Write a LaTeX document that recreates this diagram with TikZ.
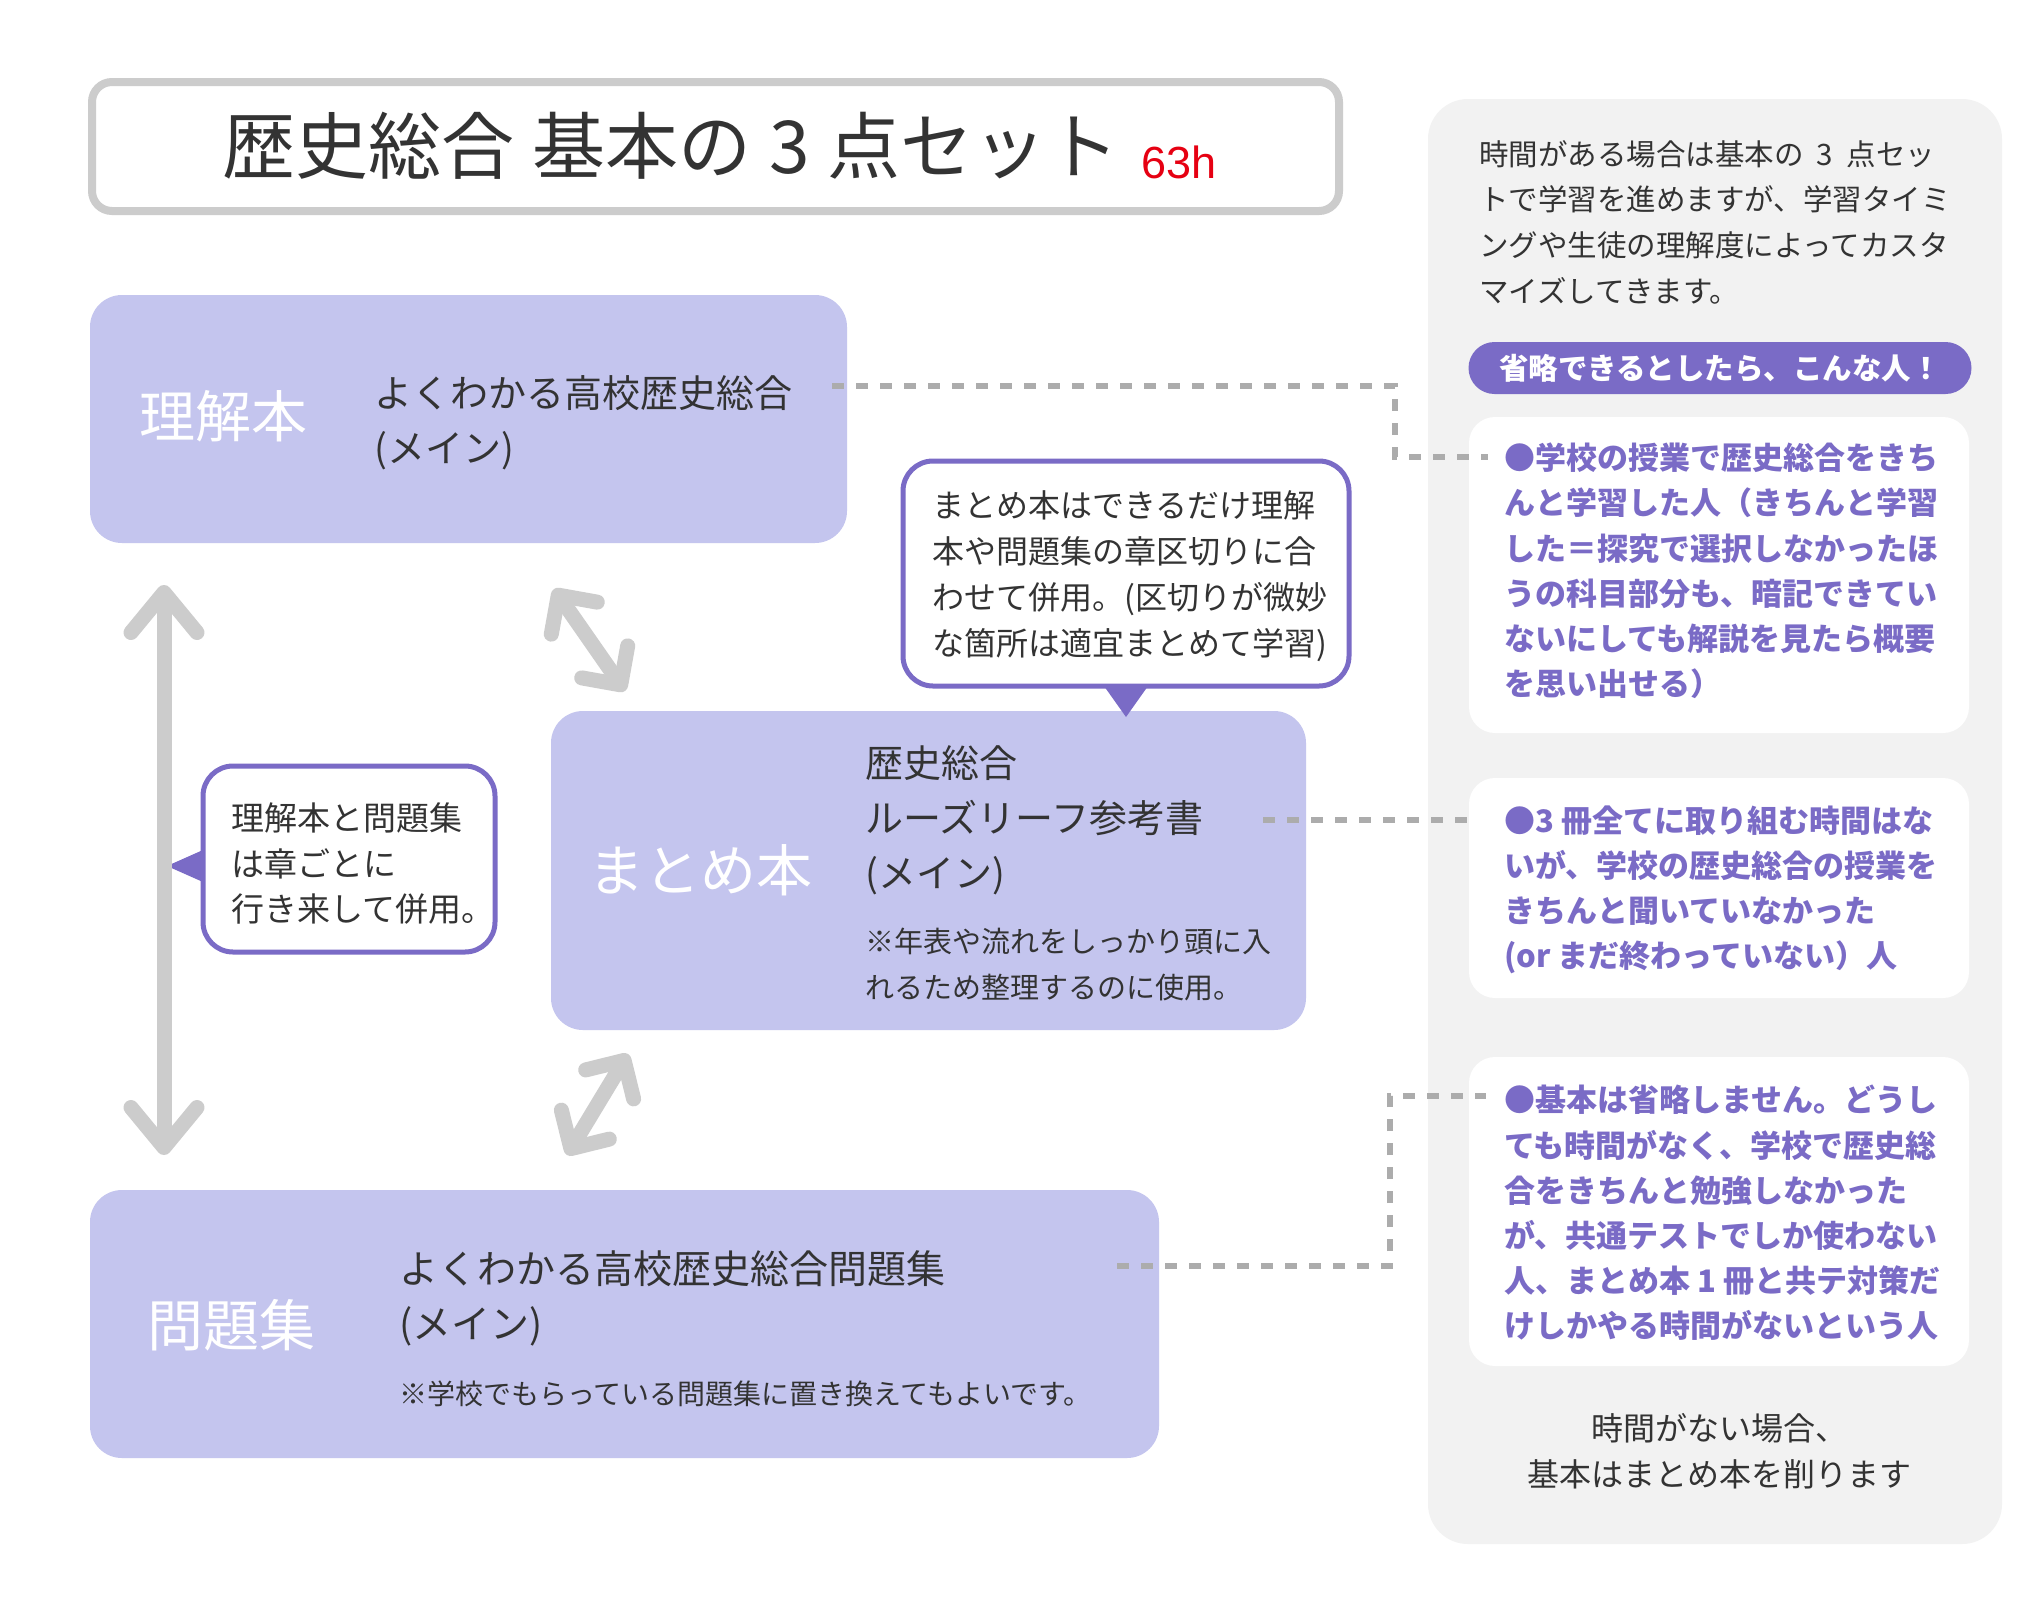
\documentclass[tikz,border=0pt]{standalone}
\usepackage{fontspec}
\setmainfont{Noto Sans CJK JP}
\newfontfamily\latinfont{Liberation Sans}
\usetikzlibrary{positioning, calc, arrows.meta}

\definecolor{colorBook}{RGB}{196, 197, 238}
\definecolor{colorPurple}{RGB}{122, 107, 198}
\definecolor{colorPanel}{RGB}{242, 242, 242}
\definecolor{colorArrow}{RGB}{204, 204, 204}
\definecolor{colorDash}{RGB}{172, 172, 172}
\definecolor{colorText}{RGB}{51, 51, 51}
\definecolor{colorHour}{RGB}{230, 0, 18}

\tikzstyle{titlebox} = [rectangle, rounded corners=20pt, draw=colorArrow, line width=8pt, fill=white]
\tikzstyle{book} = [rectangle, rounded corners=32pt, fill=colorBook]
\tikzstyle{booklabel} = [text=white, inner sep=0pt, font=\fontsize{56pt}{60pt}\selectfont]
\tikzstyle{booktext} = [text=colorText, align=left, anchor=west, inner sep=0pt, font=\fontsize{38pt}{55pt}\selectfont]
\tikzstyle{booknote} = [text=colorText, align=left, anchor=west, inner sep=0pt, font=\fontsize{29pt}{46pt}\selectfont]
\tikzstyle{callout} = [rectangle, rounded corners=30pt, draw=colorPurple, line width=5pt, fill=white, outer sep=0pt]
\tikzstyle{callouttext} = [text=colorText, align=left, anchor=west, inner sep=0pt, font=\fontsize{32pt}{46pt}\selectfont]
\tikzstyle{panel} = [rectangle, rounded corners=40pt, fill=colorPanel]
\tikzstyle{paneltext} = [text=colorText, align=left, anchor=west, inner sep=0pt, font=\fontsize{29.5pt}{45.7pt}\selectfont]
\tikzstyle{badge} = [rectangle, rounded corners=26pt, fill=colorPurple, text=white, font=\bfseries\fontsize{29.5pt}{30pt}\selectfont]
\tikzstyle{card} = [rectangle, rounded corners=26pt, fill=white]
\tikzstyle{cardtext} = [text=colorPurple, align=left, anchor=west, inner sep=0pt, font=\bfseries\fontsize{31pt}{45.2pt}\selectfont]
\tikzstyle{arrow} = [line width=15pt, draw=colorArrow, line cap=round, line join=round, {Straight Barb[length=40pt, width=66pt, round]}-{Straight Barb[length=40pt, width=66pt, round]}]
\tikzstyle{arrowshort} = [line width=15pt, draw=colorArrow, line cap=round, line join=round, {Straight Barb[length=28pt, width=56pt, round]}-{Straight Barb[length=28pt, width=56pt, round]}]
\tikzstyle{dashline} = [line width=6pt, draw=colorDash, dash pattern=on 12pt off 12pt]

\begin{document}
\begin{tikzpicture}[x=1pt, y=-1pt]

		\useasboundingbox[fill=white] (0,0) rectangle (2040,1596);

		% right panel
		\node (panel)[panel, minimum width=574pt, minimum height=1445pt] at (1715,821.5) {};
		\node (pTimeText)[paneltext] at (1479,222) {時間がある場合は基本の\hspace{0.45em}3\hspace{0.45em}点セッ\\トで学習を進めますが、学習タイミ\\ングや生徒の理解度によってカスタ\\マイズしてきます。};
		\node (badge)[badge, minimum width=503pt, minimum height=52pt, inner sep=0pt] at (1720,368) {省略できるとしたら、こんな人！};

		\node (cardA)[card, minimum width=500pt, minimum height=316pt] at (1719,575) {};
		\node (cardAText)[cardtext] at (1504,571) {●学校の授業で歴史総合をきち\\んと学習した人（きちんと学習\\した＝探究で選択しなかったほ\\うの科目部分も、暗記できてい\\ないにしても解説を見たら概要\\を思い出せる）};

		\node (cardB)[card, minimum width=500pt, minimum height=220pt] at (1719,888) {};
		\node (cardBText)[cardtext] at (1504,890) {●3 冊全てに取り組む時間はな\\いが、学校の歴史総合の授業を\\きちんと聞いていなかった\\(or まだ終わっていない）人};

		\node (cardC)[card, minimum width=500pt, minimum height=309pt] at (1719,1211.5) {};
		\node (cardCText)[cardtext] at (1504,1213) {●基本は省略しません。どうし\\ても時間がなく、学校で歴史総\\合をきちんと勉強しなかった\\が、共通テストでしか使わない\\人、まとめ本 1 冊と共テ対策だ\\けしかやる時間がないという人};

		\node (pNoTime)[text=colorText, align=center, inner sep=0pt, font=\fontsize{32pt}{46pt}\selectfont] at (1719,1451) {時間がない場合、\\基本はまとめ本を削ります};

		% title
		\node (title)[titlebox, minimum width=1247pt, minimum height=129pt] at (715.5,146.5) {};
		\node (titleText)[anchor=base, inner sep=0pt, text=colorText, font=\fontsize{73pt}{80pt}\selectfont] at (671,173) {歴史総合\hspace{0.24em}基本の\hspace{0.24em}3\hspace{0.24em}点セット};
		\node (titleHour)[anchor=base west, inner sep=0pt, text=colorHour, font=\latinfont\fontsize{45pt}{50pt}\selectfont] at (1141,178) {63h};

		% books
		\node (bRikai)[book, minimum width=757pt, minimum height=248pt] at (468.5,419) {};
		\node (lRikai)[booklabel] at (223,416) {理解本};
		\node (tRikai)[booktext] at (374,423) {よくわかる高校歴史総合\\(メイン)};

		\node (bMatome)[book, minimum width=755pt, minimum height=319pt] at (928.5,870.5) {};
		\node (lMatome)[booklabel] at (700,870) {まとめ本};
		\node (tMatome)[booktext] at (865,820) {歴史総合\\ルーズリーフ参考書\\(メイン)};
		\node (nMatome)[booknote] at (865,964) {※年表や流れをしっかり頭に入\\れるため整理するのに使用。};

		\node (bMondai)[book, minimum width=1069pt, minimum height=268pt] at (624.5,1324) {};
		\node (lMondai)[booklabel] at (231,1325) {問題集};
		\node (tMondai)[booktext, font=\fontsize{39pt}{55pt}\selectfont] at (399,1298) {よくわかる高校歴史総合問題集\\(メイン)};
		\node (nMondai)[booknote, font=\fontsize{28pt}{40pt}\selectfont] at (399,1394) {※学校でもらっている問題集に置き換えてもよいです。};

		% callouts
		\node (cTop)[callout, minimum width=446pt, minimum height=225pt] at (1126,573.5) {};
		\node (cTopText)[callouttext] at (932,576) {まとめ本はできるだけ理解\\本や問題集の章区切りに合\\わせて併用。(区切りが微妙\\な箇所は適宜まとめて学習)};
		\fill[colorPurple] ($(cTop.south)+(-22,0)$) -- ($(cTop.south)+(22,0)$) -- ($(cTop.south)+(0,31)$) -- cycle;

		\node (cLeft)[callout, minimum width=292pt, minimum height=186pt] at (349,859) {};
		\node (cLeftText)[callouttext, font=\fontsize{33pt}{45.5pt}\selectfont] at (231,864) {理解本と問題集\\は章ごとに\\行き来して併用。};
		\fill[colorPurple] ($(cLeft.west)+(0,-9)$) -- ($(cLeft.west)+(-36,7)$) -- ($(cLeft.west)+(0,23)$) -- cycle;

		% gray arrows
		\coordinate (aLeftTop) at (164,585);
		\coordinate (aLeftBottom) at (164,1155);
		\coordinate (aTopA) at (554,589);
		\coordinate (aTopB) at (625,691);
		\coordinate (aBotA) at (628,1054);
		\coordinate (aBotB) at (567,1155);

		\draw[arrow] (aLeftTop) -- (aLeftBottom);
		\draw[arrowshort] (aTopA) -- (aTopB);
		\draw[arrowshort] (aBotA) -- (aBotB);

		% dashed lines
		\coordinate (dRikai) at (832,386);
		\coordinate (dTurnA) at (1395,457);
		\coordinate (dCardA) at (1488,457);
		\coordinate (dMatome) at (1263,820);
		\coordinate (dCardB) at (1478,820);
		\coordinate (dMondai) at (1117,1266);
		\coordinate (dTurnC) at (1390,1096);
		\coordinate (dCardC) at (1486,1096);

		\draw[dashline] (dRikai) -| (dTurnA) -- (dCardA);
		\draw[dashline] (dMatome) -- (dCardB);
		\draw[dashline] (dMondai) -| (dTurnC) -- (dCardC);

\end{tikzpicture}
\end{document}
